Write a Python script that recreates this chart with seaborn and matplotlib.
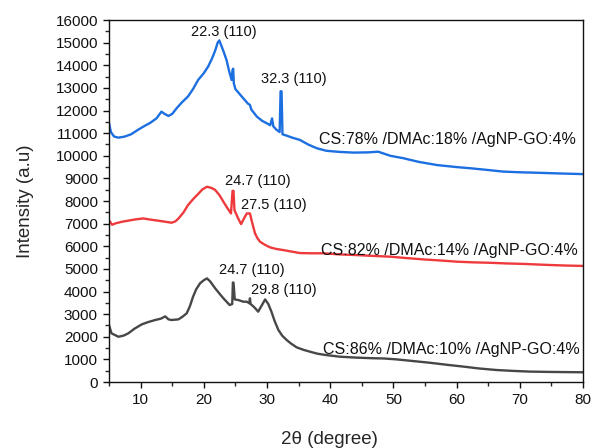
#!/usr/bin/env python3
# XRD patterns of CS/DMAc/AgNP-GO films

import matplotlib
matplotlib.use("Agg")
import matplotlib.pyplot as plt
from matplotlib.ticker import MultipleLocator
import numpy as np
import pandas as pd
import seaborn as sns

# CS:78% /DMAc:18% /AgNP-GO:4%
two_theta_78 = [5.0, 5.3, 5.8, 6.5, 7.5, 8.5, 9.6, 10.5, 11.5, 12.5, 13.3, 13.8, 14.4, 15.0,
                15.7, 16.5, 17.5, 18.3, 19.1, 20.0, 20.7, 21.3, 21.8, 22.2, 22.45, 22.8, 23.2,
                23.6, 24.0, 24.4, 24.55, 24.65, 24.75, 25.0, 25.6, 26.25, 27.0, 27.3, 27.5,
                28.4, 29.2, 30.0, 30.5, 30.8, 31.0, 31.5, 32.0, 32.15, 32.3, 32.45, 33.0, 34.0,
                35.2, 36.5, 37.9, 39.4, 41.5, 43.7, 46.0, 47.6, 49.5, 51.6, 54.0, 56.9, 60.0,
                62.1, 65.0, 67.4, 70.0, 72.7, 76.0, 80.0]
intensity_78 = [11450, 11050, 10850, 10800, 10850, 10950, 11150, 11300, 11450, 11650, 11950,
                11850, 11760, 11850, 12100, 12350, 12620, 12950, 13350, 13650, 13950, 14300,
                14650, 15000, 15100, 14850, 14550, 14230, 13750, 13350, 13800, 13850, 13200,
                12950, 12750, 12540, 12300, 12250, 12050, 11730, 11550, 11430, 11350, 11650,
                11300, 11150, 11050, 12850, 12850, 10950, 10900, 10800, 10700, 10500, 10330,
                10220, 10170, 10140, 10150, 10180, 10000, 9890, 9730, 9590, 9500, 9450, 9370,
                9300, 9270, 9250, 9220, 9190]

# CS:82% /DMAc:14% /AgNP-GO:4%
two_theta_82 = [5.0, 5.5, 6.0, 7.0, 8.0, 9.0, 10.4, 11.5, 12.8, 14.0, 14.9, 15.5, 16.0, 16.8,
                17.5, 18.3, 19.1, 19.8, 20.5, 21.2, 21.8, 22.5, 23.1, 23.7, 24.3, 24.55, 24.7,
                24.85, 25.4, 25.9, 26.4, 26.8, 27.3, 27.6, 28.1, 28.5, 28.9, 29.7, 30.5, 31.5,
                32.6, 34.0, 35.2, 37.0, 38.9, 41.5, 44.2, 46.3, 49.5, 52.0, 54.7, 57.5, 60.0,
                62.5, 65.3, 68.0, 70.6, 74.0, 77.0, 80.0]
intensity_82 = [7150, 6950, 7010, 7080, 7130, 7180, 7230, 7180, 7130, 7080, 7040, 7100, 7230,
                7500, 7820, 8080, 8310, 8520, 8630, 8580, 8490, 8250, 7970, 7700, 7450, 8450,
                8450, 7600, 7250, 6980, 7250, 7450, 7450, 7100, 6570, 6350, 6200, 6060, 5950,
                5880, 5830, 5760, 5700, 5690, 5690, 5640, 5610, 5580, 5540, 5480, 5420, 5370,
                5320, 5290, 5270, 5240, 5220, 5180, 5150, 5130]

# CS:86% /DMAc:10% /AgNP-GO:4%
two_theta_86 = [5.0, 5.4, 6.5, 7.3, 8.05, 9.0, 10.2, 11.2, 12.3, 13.2, 13.9, 14.4, 14.9, 16.0,
                16.7, 17.3, 17.8, 18.3, 18.8, 19.4, 20.0, 20.5, 21.0, 21.8, 22.5, 23.1, 23.6,
                24.1, 24.5, 24.6, 24.7, 24.9, 25.5, 26.25, 26.8, 27.2, 27.3, 27.4, 28.0, 28.6,
                29.2, 29.7, 30.2, 30.7, 31.2, 31.8, 32.4, 33.1, 33.8, 34.7, 35.8, 36.8, 38.0,
                39.4, 41.5, 44.0, 46.8, 48.5, 50.5, 53.0, 55.8, 58.5, 61.1, 63.5, 66.3, 69.0,
                71.6, 75.0, 80.0]
intensity_86 = [2520, 2150, 2000, 2050, 2150, 2350, 2550, 2650, 2740, 2800, 2900, 2770, 2740,
                2770, 2900, 3040, 3350, 3770, 4100, 4360, 4500, 4580, 4450, 4140, 3900, 3700,
                3550, 3400, 3450, 4400, 4390, 3650, 3620, 3550, 3550, 3480, 3700, 3450, 3300,
                3110, 3400, 3650, 3450, 3110, 2700, 2300, 2050, 1860, 1700, 1530, 1420, 1340,
                1250, 1190, 1120, 1080, 1050, 1040, 1000, 930, 850, 760, 680, 600, 530, 490,
                460, 445, 430]

sample_names = ["CS:78% /DMAc:18% /AgNP-GO:4%",
                "CS:82% /DMAc:14% /AgNP-GO:4%",
                "CS:86% /DMAc:10% /AgNP-GO:4%"]
line_colors = ["#1c6fe0", "#ee3a3c", "#474747"]

# peak annotations: (text, x, y)
peak_labels = [("22.3 (110)", 23.2, 15480),
               ("32.3 (110)", 34.3, 13380),
               ("24.7 (110)", 28.6, 8900),
               ("27.5 (110)", 31.1, 7830),
               ("24.7 (110)", 27.6, 4960),
               ("29.8 (110)", 32.7, 4080)]
# sample label positions (x, y)
sample_label_pos = [(58.6, 10700), (58.8, 5830), (59.1, 1450)]

df = pd.concat([
    pd.DataFrame({"two_theta": two_theta_78, "intensity": intensity_78, "sample": sample_names[0]}),
    pd.DataFrame({"two_theta": two_theta_82, "intensity": intensity_82, "sample": sample_names[1]}),
    pd.DataFrame({"two_theta": two_theta_86, "intensity": intensity_86, "sample": sample_names[2]}),
])

sns.set_theme(style="ticks")
plt.rcParams['font.family'] = ['Liberation Sans', 'DejaVu Sans']

fig = plt.figure(figsize=(5.94, 4.48), dpi=100)
ax = fig.add_axes([0.1835, 0.1473, 0.798, 0.808])

sns.lineplot(data=df, x="two_theta", y="intensity", hue="sample", palette=line_colors,
             hue_order=sample_names, estimator=None, sort=True, linewidth=1.7,
             legend=False, ax=ax)

for text, x, y in peak_labels:
    ax.text(x, y, text, ha="center", va="center", fontsize=10.5, color="#111111")
for name, (x, y) in zip(sample_names, sample_label_pos):
    ax.text(x, y, name, ha="center", va="center", fontsize=11.5, color="#111111")

ax.set_xlim(5, 80)
ax.set_ylim(0, 16000)
ax.xaxis.set_major_locator(MultipleLocator(10))
ax.xaxis.set_minor_locator(MultipleLocator(5))
ax.yaxis.set_major_locator(MultipleLocator(1000))
ax.yaxis.set_minor_locator(MultipleLocator(500))
ax.tick_params(which="major", direction="out", length=4.5, width=1.0, labelsize=11, colors="#111111")
ax.tick_params(which="minor", direction="out", length=3, width=1.0)
for s in ax.spines.values():
    s.set_linewidth(1.0)
    s.set_color("#111111")

ax.set_xlabel("2θ (degree)", fontsize=13.5)
ax.set_ylabel("Intensity (a.u)", fontsize=13.5)
ax.xaxis.set_label_coords(0.466, -0.135)
ax.yaxis.set_label_coords(-0.158, 0.5)

fig.savefig("out.png", dpi=100)
plt.close(fig)
